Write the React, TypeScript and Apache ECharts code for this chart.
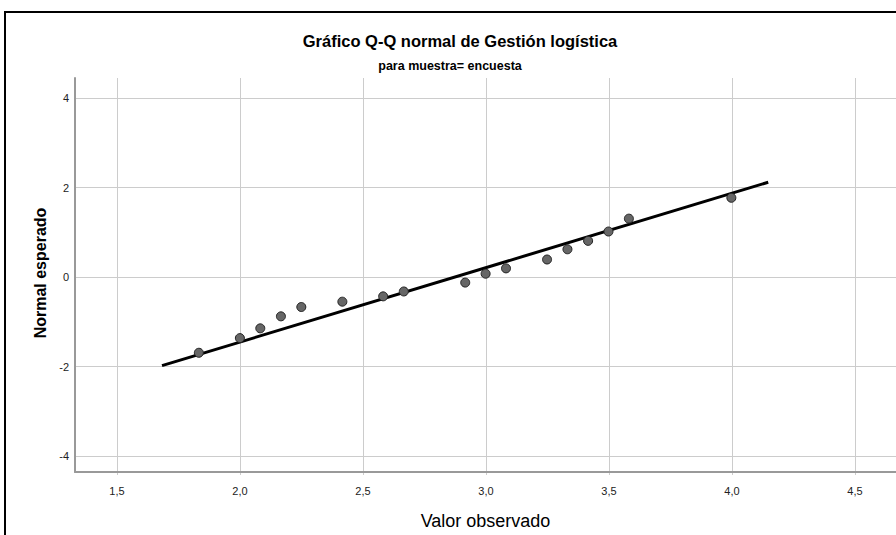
import React, { useEffect, useRef } from "react";
import * as echarts from "echarts";

const observed = [1.833, 2.0, 2.083, 2.167, 2.25, 2.417, 2.583, 2.667, 2.917, 3.0, 3.083, 3.25, 3.333, 3.417, 3.5, 3.583, 4.0];
const expected = [-1.74, -1.41, -1.19, -0.92, -0.71, -0.59, -0.47, -0.36, -0.16, 0.04, 0.16, 0.36, 0.59, 0.78, 0.99, 1.28, 1.75];
const lineX = [1.683, 4.15];
const lineY = [-2.03, 2.1];
const xTicks = { min: 1.5, max: 4.5, step: 0.5 };
const yTicks = { min: -4, max: 4, step: 2 };
const titleText = "Gráfico Q-Q normal de Gestión logística";
const subtitleText = "para muestra= encuesta";
const xName = "Valor observado";
const yName = "Normal esperado";

export default function App() {
  const ref = useRef<HTMLDivElement>(null);
  useEffect(() => {
    if (!ref.current) return;
    const chart = echarts.init(ref.current, undefined, { renderer: "svg" });
    const font = "Arial, 'Liberation Sans', sans-serif";
    const hiddenAxis = { show: false };
    chart.setOption({
      animation: false,
      backgroundColor: "#fff",
      textStyle: { fontFamily: font },
      title: [
        { text: titleText, left: 455, top: 27, textAlign: "center", textStyle: { fontSize: 16.5, fontWeight: "bold", color: "#000", fontFamily: font } },
        { text: subtitleText, left: 445, top: 54, textAlign: "center", textStyle: { fontSize: 12.5, fontWeight: "bold", color: "#000", fontFamily: font } },
      ],
      graphic: [
        { type: "rect", shape: { x: 5, y: 12, width: 900, height: 540 }, style: { fill: "none", stroke: "#000", lineWidth: 2 }, z: 100 },
        { type: "text", x: 40, y: 273, rotation: Math.PI / 2, style: { text: yName, font: "bold 16px Arial, 'Liberation Sans', sans-serif", fill: "#000", align: "center", verticalAlign: "middle" } },
      ],
      grid: [
        { left: 75, top: 78, right: 0, bottom: 60, containLabel: false },
        { left: 117, top: 78, right: 41, bottom: 60, containLabel: false },
        { left: 75, top: 98, right: 0, bottom: 79, containLabel: false },
      ],
      xAxis: [
        {
          gridIndex: 0, type: "value", min: 1.329, max: 4.67,
          name: xName, nameLocation: "middle", nameGap: 40,
          nameTextStyle: { fontSize: 18, color: "#000", fontFamily: font },
          axisLine: { show: true, onZero: false, lineStyle: { color: "#999", width: 2 } },
          axisTick: { show: false }, axisLabel: { show: false }, splitLine: { show: false },
        },
        {
          gridIndex: 1, type: "value", min: xTicks.min, max: xTicks.max, interval: xTicks.step,
          axisLine: { show: false }, axisTick: { show: false },
          axisLabel: { color: "#222", fontSize: 11, margin: 10, formatter: (v: number) => v.toFixed(1).replace(".", ",") },
          splitLine: { show: true, lineStyle: { color: "#ccc" } },
        },
        { gridIndex: 2, type: "value", min: 0, max: 1, ...hiddenAxis },
      ],
      yAxis: [
        {
          gridIndex: 0, type: "value", min: -4.425, max: 4.447,
          axisLine: { show: true, onZero: false, lineStyle: { color: "#999", width: 2 } },
          axisTick: { show: false }, axisLabel: { show: false }, splitLine: { show: false },
        },
        { gridIndex: 1, type: "value", min: 0, max: 1, ...hiddenAxis },
        {
          gridIndex: 2, type: "value", min: yTicks.min, max: yTicks.max, interval: yTicks.step,
          axisLine: { show: false }, axisTick: { show: false },
          axisLabel: { color: "#222", fontSize: 11, margin: 6, formatter: (v: number) => String(v) },
          splitLine: { show: true, lineStyle: { color: "#ccc" } },
        },
      ],
      series: [
        {
          type: "line", xAxisIndex: 0, yAxisIndex: 0,
          data: lineX.map((x, i) => [x, lineY[i]]),
          symbol: "none",
          lineStyle: { color: "#000", width: 3 },
          z: 3,
        },
        {
          type: "scatter", xAxisIndex: 0, yAxisIndex: 0,
          data: observed.map((x, i) => [x, expected[i]]),
          symbolSize: 9,
          itemStyle: { color: "#666", borderColor: "#222", borderWidth: 1, opacity: 1 },
          z: 4,
        },
      ],
    });
    return () => chart.dispose();
  }, []);
  return <div ref={ref} style={{ position: "fixed", left: 0, top: 0, width: 896, height: 535 }} />;
}
